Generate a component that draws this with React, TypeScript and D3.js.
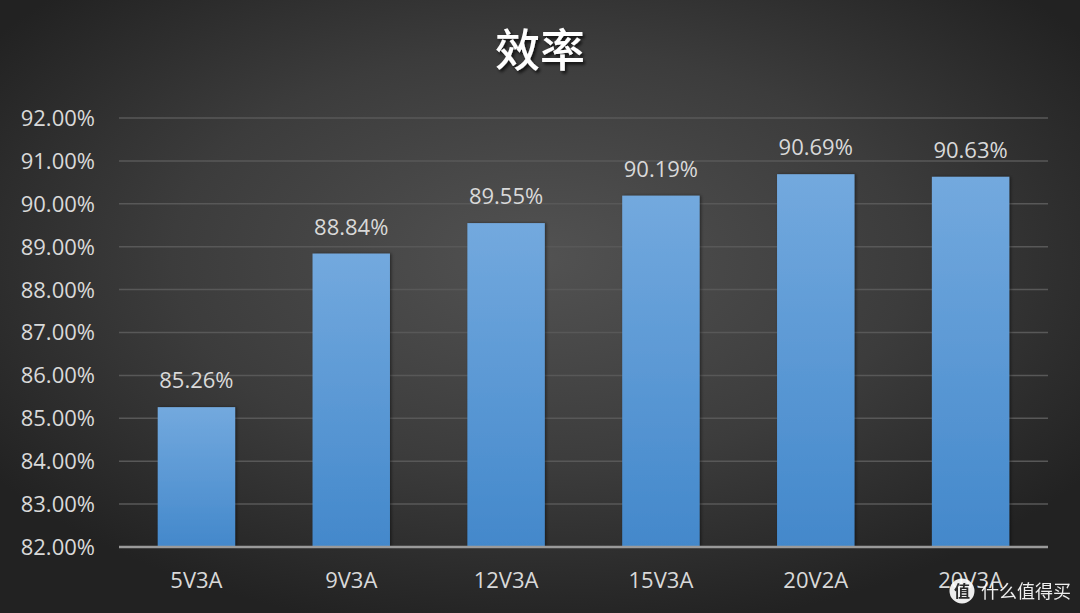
import React from "react";
import * as d3 from "d3";

const categories = ["5V3A", "9V3A", "12V3A", "15V3A", "20V2A", "20V3A"];
const efficiency = [85.26, 88.84, 89.55, 90.19, 90.69, 90.63];
const yTicks = [82, 83, 84, 85, 86, 87, 88, 89, 90, 91, 92];
const title = "效率";

const W = 1080;
const H = 613;
const M = { left: 119, right: 1048, top: 118, bottom: 547 };

export default function App() {
  const x = d3
    .scaleBand<string>()
    .domain(categories)
    .range([M.left, M.right])
    .paddingInner(0.5)
    .paddingOuter(0.25);
  const y = d3.scaleLinear().domain([82, 92]).range([M.bottom, M.top]);
  const font = "'Open Sans', 'Noto Sans', sans-serif";
  const fs = 22;

  return (
    <svg
      width={W}
      height={H}
      style={{ position: "absolute", left: 0, top: 0, display: "block" }}
    >
      <defs>
        <radialGradient id="bg" cx="50%" cy="42%" r="62%">
          <stop offset="0%" stopColor="#525252" />
          <stop offset="55%" stopColor="#3c3c3c" />
          <stop offset="100%" stopColor="#222222" />
        </radialGradient>
        <linearGradient id="bar" x1="0" y1="0" x2="0" y2="1">
          <stop offset="0%" stopColor="#73a9de" />
          <stop offset="100%" stopColor="#4388cb" />
        </linearGradient>
        <filter id="tshadow" x="-20%" y="-20%" width="140%" height="140%">
          <feDropShadow dx="2" dy="2.5" stdDeviation="1.5" floodColor="#000" floodOpacity="0.7" />
        </filter>
        <filter id="bshadow" x="-10%" y="-5%" width="120%" height="110%">
          <feDropShadow dx="1.5" dy="0" stdDeviation="1.5" floodColor="#000" floodOpacity="0.45" />
        </filter>
      </defs>
      <rect x={0} y={0} width={W} height={H} fill="url(#bg)" />

      <text
        x={540}
        y={67}
        textAnchor="middle"
        fill="#ffffff"
        fontSize={45}
        fontWeight={500}
        fontFamily="'Noto Sans CJK SC', sans-serif"
        filter="url(#tshadow)"
      >
        {title}
      </text>

      {yTicks.map((t) =>
        t === 82 ? null : (
          <line
            key={"g" + t}
            x1={M.left}
            x2={M.right}
            y1={y(t)}
            y2={y(t)}
            stroke="#585858"
            strokeWidth={1.5}
          />
        )
      )}
      {yTicks.map((t) => (
        <text
          key={"yl" + t}
          x={95}
          y={y(t)}
          dy="0.36em"
          textAnchor="end"
          fill="#d9d9d9"
          fontSize={fs}
          fontFamily={font}
        >
          {t.toFixed(2) + "%"}
        </text>
      ))}

      {categories.map((c, i) => (
        <g key={c}>
          <rect
            x={x(c)}
            y={y(efficiency[i])}
            width={x.bandwidth()}
            height={y(82) - y(efficiency[i])}
            fill="url(#bar)"
            filter="url(#bshadow)"
          />
          <text
            x={(x(c) as number) + x.bandwidth() / 2}
            y={y(efficiency[i]) - 19}
            textAnchor="middle"
            fill="#d9d9d9"
            fontSize={fs}
            fontFamily={font}
          >
            {efficiency[i].toFixed(2) + "%"}
          </text>
          <text
            x={(x(c) as number) + x.bandwidth() / 2}
            y={588}
            textAnchor="middle"
            fill="#d9d9d9"
            fontSize={fs}
            fontFamily={font}
          >
            {c}
          </text>
        </g>
      ))}

      <line
        x1={M.left}
        x2={M.right}
        y1={y(82)}
        y2={y(82)}
        stroke="#9a9a9a"
        strokeWidth={2.5}
      />

      <g opacity={0.92}>
        <circle cx={962} cy={591} r={12.5} fill="#ffffff" />
        <text
          x={962}
          y={591}
          dy="0.36em"
          textAnchor="middle"
          fill="#2a2a2a"
          fontSize={16}
          fontWeight="bold"
          fontFamily="'Noto Sans CJK SC', sans-serif"
        >
          值
        </text>
        <text
          x={981}
          y={598}
          fill="#ffffff"
          fontSize={18}
          fontFamily="'Noto Sans CJK SC', sans-serif"
        >
          什么值得买
        </text>
      </g>
    </svg>
  );
}
